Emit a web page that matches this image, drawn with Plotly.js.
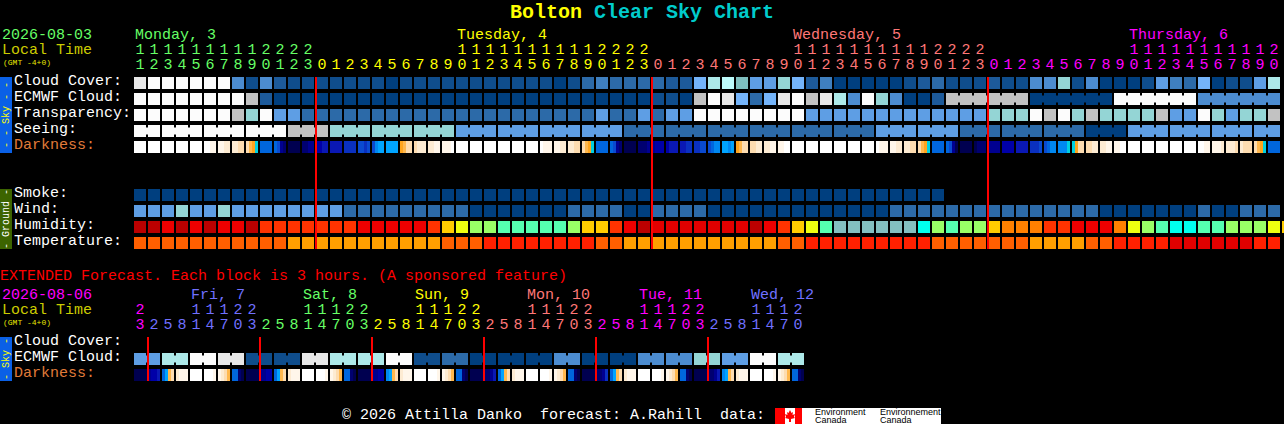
<!DOCTYPE html>
<html><head><meta charset="utf-8">
<script src="https://cdn.plot.ly/plotly-3.0.1.min.js"></script>
<style>html,body{margin:0;padding:0;background:#000;overflow:hidden}</style></head>
<body><div id="chart" style="width:1284px;height:424px"></div>
<script>
// ---------- data ----------
const skyPalette = ['#003f7f','#0f4d8c','#1d5a9a','#2c6aa8','#3f7fbf','#4c8cd0','#5e9ee4','#74b4fa','#7fbfbf','#94d5d5','#ade9e9','#bcfafa','#c2c2c2','#e8e8e8','#fcfcfc'];
const groundPalette = ['#bb0000','#ee0000','#e00000','#ff3300','#ff8000','#ffcc00','#eeff10','#99ff66','#55ffb0','#00ffee','#83c0c0','#ff2000','#ff5f00','#ff9f00','#003f7f','#2c6aa8','#5e9ee4','#94d5d5'];
const darkPalette = ['#ffffff','#fff6ea','#fdebd2','#fddcb0','#ffb84e','#ffa51e','#00d0e0','#00a4ff','#0088f0','#0066dd','#0a4ad0','#0a30c0','#0a18b4','#0000a8','#000090','#000070','#000050'];

const hoursMain = [11,12,13,14,15,16,17,18,19,20,21,22,23,
 0,1,2,3,4,5,6,7,8,9,10,11,12,13,14,15,16,17,18,19,20,21,22,23,
 0,1,2,3,4,5,6,7,8,9,10,11,12,13,14,15,16,17,18,19,20,21,22,23,
 0,1,2,3,4,5,6,7,8,9,10,11,12,13,14,15,16,17,18,19,20];
const hoursExt = [23,2,5,8,11,14,17,20,23,2,5,8,11,14,17,20,23,2,5,8,11,14,17,20,23,2,5,8,11,14,17,20,23,2,5,8,11,14,17,20,23,2,5,8,11,14,17,20];
const dayColorsMain = ['#66ff66','#ffff00','#ff7777','#ff00ff'];
const dayColorsExt = ['#ff00ff','#7070ff','#66ff66','#ffff00','#ff7777','#ff00ff','#7070ff'];

const dayLabelsMain = ['Monday, 3','Tuesday, 4','Wednesday, 5','Thursday, 6'];
const dayLabelColsMain = [0,23,47,71];
const dayLabelsExt = ['Fri, 7','Sat, 8','Sun, 9','Mon, 10','Tue, 11','Wed, 12'];
const dayLabelColsExt = [4,12,20,28,36,44];

const cloudCover = [13,14,14,14,14,14,14,5,1,5,2,1,1,
 1,1,1,1,1,0,1,1, 1,1,1,1,1,1,1,1,1,0,1,3,4,3,3,3,
 3,2,2,7,10,11,8,6,6,9,7,2,4,0, 0,0,0,0,1,2,3,1,1,1,
 2,1,1,5,5,9,1,5,0,0,0,1,6,4,3,7,0,1,1,6,10];
const ecmwfCloud = [14,14,14,14,14,14,14,14,12,2,0,0,0,
 0,0,0,0,0,0,0,0, 0,0,0,0,0,0,0,0,0,0,0,0,0,0,0,0,
 1,1,0,12,14,13,7,3,7,13,14,12,13,10,5, 14,9,5,0,0,2,
 12,12,12,12,12,12,0,0,0,0,0,0,14,14,14,14,14,14,5,5,5,5,5,5];
const ecmwfBlockStarts = [58,64,70,76];
const transparency = [14,14,14,14,14,14,14,12,9,14,6,6,3,
 3,3,3,3,3,3,3,3, 3,3,3,3,3,3,3,3,3,3,3,3,6,3,3,6,
 3,6,6,14,14,14,14,14,14,14,14,6,6,6,6, 6,6,6,6,6,6,6,6,6,
 9,9,9,14,12,14,9,12,9,9,9,9,12,6,6,14,9,6,9,9,12];
const seeing = [14,14, 14,14,14, 14,14,14, 14,14,14, 12,12,12, 9,9,9, 9,9,9, 9,9,9,
 6,6,6, 6,6,6, 6,6,6, 6,6,6, 3,3,3, 3,3,3, 3,3,3, 3,3,3, 3,3,3, 3,3,3,
 6,6,6, 6,6,6, 3,3,3, 3,3,3, 3,3,3, 0,0,0, 6,6,6, 6,6,6, 6,6,6, 6,6];
const seeingBlockStarts = [0,2,5,8,11,14,17,20,23,26,29,32,35,38,41,44,47,50,53,56,59,62,65,68,71,74,77,80];

const darkness = [
 [0,0,0,0],[0,0,0,0],[0,0,0,0],[0,0,0,0],[0,0,0,0],[0,0,1,1],[1,1,2,2],[2,2,3,3],[3,4,5,6],[9,9,9,9],[9,10,14,15],[16,16,16,16],[15,15,14,14],
 [13,13,12,12],[12,12,12,12],[11,11,11,11],[10,10,11,10],[10,8,7,7],[7,7,7,7],[5,4,3,3],[3,2,2,2],[2,2,1,1],[1,1,1,0],[0,0,0,0],[0,0,0,0],[0,0,0,0],[0,0,0,0],[0,0,0,0],[0,0,0,0],
 [0,1,1,1],[1,1,2,2],[2,2,3,3],[3,4,5,6],[9,9,9,9],[9,10,14,15],[16,16,16,16],[15,15,15,14],
 [14,13,13,13],[13,12,12,12],[12,12,11,11],[11,11,10,10],[10,9,8,8],[7,7,8,7],[5,4,3,3],[3,3,2,2],[2,2,1,1],[1,1,0,0],[0,0,0,0],[0,0,0,0],[0,0,0,0],[0,0,0,0],[0,0,0,0],[0,0,0,0],
 [0,1,1,1],[1,1,2,2],[2,2,3,3],[3,4,5,6],[9,9,9,9],[9,10,14,16],[16,16,16,16],[16,15,15,15],
 [14,14,14,14],[13,13,13,13],[12,12,12,12],[11,11,11,10],[10,9,8,8],[8,8,8,6],[6,5,3,3],[3,3,2,2],[2,2,1,1],[1,1,0,0],[0,0,0,0],[0,0,0,0],[0,0,0,0],[0,0,0,0],[0,0,0,0],
 [0,0,1,1],[1,1,1,2],[2,2,2,3],[2,3,3,3],[3,4,5,6],[9,9,9,9]];

const smoke = [0,0,0,0,0,0,0,0,0,0,0,0,0,0,0,0,0,0,0,0,0,0,0,0,0,0,0,0,0,0,0,0,0,0,0,0,0,0,0,0,0,0,0,0,0,0,0,0,0,0,0,0,0,0,0,0,0,0].map(v=>v+14);
const wind = [16,16,16,17,16,16,17,16,16,16,16,16,16,16,16,15,15,15,15,15,15,15,15,15,
 14,14,14,14,14,14,14,15,15,15,15,14,14,15,15,15,15,14,14,14,14,14,14,14,14,14,14,14,14,14,
 15,15,15,15,15,15,15,15,15,15,15,15,15,15,15,14,14,14,14,14,14,14,15,14,14,15,15,15];
const humidity = [0,0,1,0,1,0,1,1,0,3,3,3,3,3,3,3,1,1,1,1,1,3,5,6,7,7,8,8,8,8,8,7,5,5,3,1,0,
 2,2,2,2,2,2,2,0,1,3,5,6,8,10,10,10,10,10,10,9,7,8,7,7,5,4,4,4,3,3,1,1,1,4,6,7,8,9,9,8,8,7,7,7,6,5];
const temperature = [12,12,12,12,12,12,12,12,12,12,12,13,13,13,13,13,13,13,13,13,13,13,12,12,12,11,11,11,11,11,11,11,11,12,12,13,13,
 13,13,13,13,13,13,13,13,13,12,12,11,11,11,11,11,11,11,11,11,12,12,12,12,12,12,12,13,13,13,13,12,12,11,11,11,11,2,2,2,2,2,2,11,11];

const extEcmwfBlocks = [6,10,14,13,1,1,13,10,10,14,1,3,0,0,0,5,0,0,5,5,9,6,14,10];
const extDarkness = [
 [16,16,16,16],[14,13,13,12],[9,7,4,3],[2,1,1,1],[0,0,0,0],[0,0,0,1],[1,2,3,4],[9,9,15,16],
 [16,16,16,16],[14,14,13,13],[9,7,4,3],[2,1,1,1],[0,0,0,0],[0,0,0,1],[1,2,3,4],[9,9,15,16],
 [16,16,16,16],[14,14,13,13],[8,7,4,3],[2,1,1,1],[0,0,0,0],[0,0,0,1],[1,2,3,4],[9,9,15,16],
 [16,16,16,16],[15,15,14,12],[9,7,4,3],[2,1,1,1],[0,0,0,0],[0,0,0,1],[1,2,3,4],[9,9,15,16],
 [16,16,16,16],[15,15,14,11],[9,7,4,3],[2,1,1,1],[0,0,0,0],[0,0,0,1],[1,2,3,4],[9,9,15,16],
 [16,16,16,16],[15,15,14,12],[8,7,4,3],[2,1,1,1],[0,0,0,0],[0,0,0,1],[1,2,3,4],[9,9,15,16]];
const extDarkJoined = [0,8,16,24,32,40];

const midnightMain = [13,37,61];
const midnightExt = [1,9,17,25,33,41];

const rowLabelsMain = ['Cloud Cover:','ECMWF Cloud:','Transparency:','Seeing:','Darkness:'];
const rowLabelsGround = ['Smoke:','Wind:','Humidity:','Temperature:'];
const rowLabelsExt = ['Cloud Cover:','ECMWF Cloud:','Darkness:'];

// ---------- scales: one column = 14 px, one row = 16 px ----------
const W = 1284, H = 424;
const X = px => (px-140)/14;
const Y = py => (py-83)/16;
const FONT = '"Liberation Mono","DejaVu Sans Mono",monospace';

function discrete(pal){
  const n = pal.length, s = [];
  pal.forEach((c,i)=>{ s.push([i/n,c]); s.push([(i+1)/n,c]); });
  return s;
}
function hm(z,y,pal,x0){
  return {type:'heatmap', z:z, y:y, x:z[0].map((_,i)=>i), xgap:2, ygap:4,
    colorscale:discrete(pal), zmin:-0.5, zmax:pal.length-0.5, showscale:false, hoverinfo:'skip'};
}
function pad(a,n){ const r=a.slice(); while(r.length<n) r.push(null); return r; }

function connectors(vals,starts,total,row,pal){
  const t=[];
  starts.forEach((s,k)=>{
    const e=(k+1<starts.length?starts[k+1]:total)-1;
    if(e>s) t.push({type:'scatter',mode:'lines',x:[s,e],y:[row,row],hoverinfo:'skip',
      line:{color:pal[vals[s]],width:7},showlegend:false});
  });
  return t;
}
function darkHeat(samples,row,joined){
  const edges=[], z=[];
  samples.forEach((s,c)=>{
    const sub=[-6,-3,0,3].map(d=>c+d/14);
    s.forEach((v,i)=>{ edges.push(sub[i]); z.push(v); });
    edges.push(c+6/14);
    z.push(joined.includes(c)?s[3]:null);
  });
  edges.push(samples.length-0.5+1/14);
  return {type:'heatmap',x:edges,y:[row],z:[z],colorscale:discrete(darkPalette),zmin:-0.5,zmax:darkPalette.length-0.5,
    showscale:false,hoverinfo:'skip',ygap:4};
}
function hourText(hours,colors,tensY,unitsY){
  const col=[]; let d=0;
  hours.forEach((h,i)=>{ if(i>0 && h<hours[i-1]) d++; col.push(colors[d]); });
  const idx=hours.map((_,i)=>i);
  const tens=idx.filter(i=>hours[i]>=10);
  return [
   {type:'scatter',mode:'text',x:tens,y:tens.map(()=>tensY),text:tens.map(i=>String(Math.floor(hours[i]/10))),
    textfont:{family:FONT,size:15,color:tens.map(i=>col[i])},textposition:'middle center',hoverinfo:'skip',showlegend:false},
   {type:'scatter',mode:'text',x:idx,y:idx.map(()=>unitsY),text:hours.map(h=>String(h%10)),
    textfont:{family:FONT,size:15,color:col},textposition:'middle center',hoverinfo:'skip',showlegend:false}];
}
function redLines(cols,y0,y1,offset){
  return {type:'scatter',mode:'lines',hoverinfo:'skip',showlegend:false,
    x:cols.flatMap(c=>[c+offset,c+offset,null]),
    y:cols.flatMap(()=>[y0,y1,null]),line:{color:'#ff0000',width:2}};
}

// ---------- traces ----------
const traces = [];
traces.push(hm([cloudCover,ecmwfCloud,transparency,seeing],[0,1,2,3],skyPalette));
traces.push(...connectors(ecmwfCloud,ecmwfBlockStarts,82,1,skyPalette));
traces.push(...connectors(seeing,seeingBlockStarts,82,3,skyPalette));
traces.push(darkHeat(darkness,4,[]));
traces.push(hm([pad(smoke,82),wind,humidity,temperature],[7,8,9,10],groundPalette));
const extEcmwf = extEcmwfBlocks.flatMap(v=>[v,v]);
traces.push(hm([extEcmwf],[Y(359)],skyPalette));
traces.push(...connectors(extEcmwf,extEcmwfBlocks.map((_,i)=>i*2),48,Y(359),skyPalette));
traces.push(darkHeat(extDarkness,Y(375),extDarkJoined));
traces.push(redLines(midnightMain,Y(77),Y(249),-3/7));
traces.push(redLines(midnightExt,Y(337),Y(381),-3/7));
traces.push(...hourText(hoursMain,dayColorsMain,Y(50),Y(65)));
traces.push(...hourText(hoursExt,dayColorsExt,Y(310),Y(325)));

// ---------- text ----------
function note(text,px,py,color,size,opts){
  return Object.assign({text:text,xref:'x',yref:'y',x:X(px),y:Y(py),showarrow:false,xanchor:'left',yanchor:'middle',
    borderpad:0,borderwidth:0,font:{family:FONT,size:size||15,color:color}},opts||{});
}
const ann = [];
dayLabelsMain.forEach((t,i)=>ann.push(note(t,135+14*dayLabelColsMain[i],35,dayColorsMain[i])));
dayLabelsExt.forEach((t,i)=>ann.push(note(t,135+14*dayLabelColsExt[i],295,dayColorsExt[i+1])));
ann.push(note('2026-08-03',2,35,'#66ff66'));
ann.push(note('Local Time',2,50,'#cccc00'));
ann.push(note('(GMT -4+0)',3,62,'#e6e600',8));
ann.push(note('EXTENDED Forecast. Each block is 3 hours. (A sponsored feature)',0,276,'#ff0000'));
ann.push(note('2026-08-06',2,295,'#ff00ff'));
ann.push(note('Local Time',2,310,'#cccc00'));
ann.push(note('(GMT -4+0)',3,322,'#e6e600',8));
rowLabelsMain.forEach((t,i)=>ann.push(note(t,14,81+16*i,t==='Darkness:'?'#e07b39':'#ffffff')));
rowLabelsGround.forEach((t,i)=>ann.push(note(t,14,193+16*i,'#ffffff')));
rowLabelsExt.forEach((t,i)=>ann.push(note(t,14,341+16*i,t==='Darkness:'?'#e07b39':'#ffffff')));
ann.push(note('- - Sky - -',6,115,'#ffff00',10,{textangle:-90,xanchor:'center'}));
ann.push(note('- Ground -',6,219,'#ffffff',10,{textangle:-90,xanchor:'center'}));
ann.push(note('- Sky -',6,359,'#ffff00',10,{textangle:-90,xanchor:'center'}));
ann.push(note('\u00a9 2026 Attilla Danko  forecast: A.Rahill  data:',342,415,'#ffffff',15));
ann.push(note('Environment',815,412,'#000000',8,{font:{family:'"Liberation Sans",sans-serif',size:9,color:'#000'}}));
ann.push(note('Canada',815,420,'#000000',8,{font:{family:'"Liberation Sans",sans-serif',size:9,color:'#000'}}));
ann.push(note('Environnement',880,412,'#000000',8,{font:{family:'"Liberation Sans",sans-serif',size:9,color:'#000'}}));
ann.push(note('Canada',880,420,'#000000',8,{font:{family:'"Liberation Sans",sans-serif',size:9,color:'#000'}}));

function rect(x0,y0,x1,y1,color,layer){
  return {type:'rect',xref:'x',yref:'y',x0:X(x0),x1:X(x1),y0:Y(y0),y1:Y(y1),fillcolor:color,line:{width:0},layer:layer||'below'};
}
const leaf=[[0,-6],[1.5,-3],[3,-4],[2.5,-1],[5,-2],[4,1],[5,2],[1,3],[1,6],[-1,6],[-1,3],[-5,2],[-4,1],[-5,-2],[-2.5,-1],[-3,-4],[-1.5,-3]];
const shapes=[
 rect(0,77,12,153,'#0a60e6'),
 rect(0,189,12,249,'#3c6400'),
 rect(0,337,12,381,'#0a60e6'),
 rect(775,408,941,424,'#ffffff'),
 rect(775,408,785,424,'#ff0000','above'),
 rect(795,408,802,424,'#ff0000','above'),
 {type:'path',xref:'x',yref:'y',layer:'above',fillcolor:'#ff0000',line:{width:0},
  path:leaf.map((p,i)=>(i?'L':'M')+X(790+p[0])+','+Y(416+p[1])).join(' ')+' Z'}
];

const layout = {
  width:W,height:H,margin:{l:0,r:0,t:0,b:0,pad:0},
  paper_bgcolor:'#000',plot_bgcolor:'#000',showlegend:false,
  title:{text:'<span style="color:#ffff00">Bolton</span> <span style="color:#00cccc">Clear Sky Chart</span>',
    x:0.5,xanchor:'center',y:1-11/H,yanchor:'middle',font:{family:FONT,size:20,weight:700}},
  xaxis:{range:[X(0),X(W)],visible:false,fixedrange:true,showgrid:false,zeroline:false},
  yaxis:{range:[Y(H),Y(0)],visible:false,fixedrange:true,showgrid:false,zeroline:false},
  annotations:ann,shapes:shapes,hovermode:false
};
Plotly.newPlot('chart',traces,layout,{staticPlot:true,displayModeBar:false});
</script></body></html>
